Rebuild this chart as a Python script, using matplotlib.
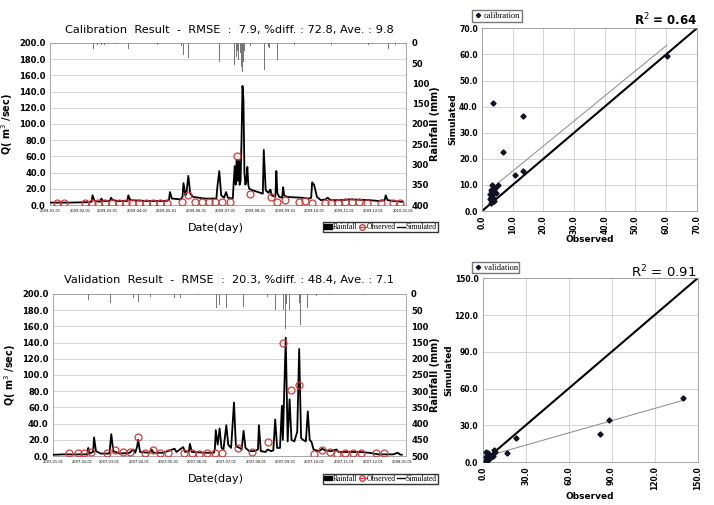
import numpy as np
import pandas as pd
import matplotlib
matplotlib.use('Agg')
import matplotlib.pyplot as plt
import matplotlib.dates as mdates
from matplotlib.lines import Line2D
from matplotlib.patches import Patch

# ---- calibration (2009) ----
cal_sim_day = [0, 20, 40, 43, 44, 46, 52, 53, 55, 62, 63, 65, 70, 80, 81, 83, 100, 120, 123, 124, 126,
               135, 137, 138, 140, 141, 143, 145, 148, 160, 172, 173, 175, 177, 180, 182, 184, 189,
               190, 191, 192, 193, 194, 195, 196, 197, 198, 199, 200, 201, 202, 203, 204, 205, 206,
               210, 215, 220, 221, 223, 226, 227, 228, 229, 233, 234, 235, 237, 240, 241, 242, 245,
               260, 268, 270, 271, 273, 276, 280, 285, 287, 290, 300, 310, 330, 340, 346, 347, 349,
               355, 364]
cal_sim_val = [3, 3, 3.5, 4, 12, 5, 4, 8, 5, 5, 9, 6, 5, 5, 12, 6, 5, 5, 6, 16, 8,
               7, 10, 27, 12, 14, 36, 14, 10, 8, 8, 22, 42, 12, 9, 16, 9, 8,
               30, 48, 25, 56, 30, 55, 25, 30, 80, 147, 130, 40, 25, 30, 47, 25, 20,
               18, 16, 14, 68, 18, 15, 18, 19, 12, 10, 42, 15, 10, 9, 22, 12, 10,
               9, 8, 9, 28, 25, 10, 6, 7, 9, 6, 6, 7, 6, 5, 6, 12, 6,
               5, 4]
cal_obs_day = [7, 14, 36, 43, 50, 57, 64, 71, 79, 85, 92, 99, 106, 114, 121, 136, 143, 150, 157, 164,
               171, 178, 186, 193, 207, 228, 235, 243, 257, 264, 271, 284, 291, 298, 305, 312, 319,
               328, 342, 355, 362]
cal_obs_val = [3, 3, 3, 3, 2.5, 3, 3, 3, 3, 3, 3, 3, 3, 3, 3, 3.5, 12, 4, 3.5, 4,
               3.5, 4, 3.5, 60, 13, 10, 4, 6, 4, 4.5, 3, 3, 3, 3, 4, 4, 4,
               3, 3, 3, 3]
cal_rain_day = [45, 49, 53, 56, 63, 68, 81, 94, 111, 124, 136, 138, 143, 156, 175, 183, 191, 193, 194,
                195, 197, 198, 199, 200, 201, 207, 222, 226, 227, 235, 243, 253, 274, 291, 309, 329,
                350, 357]
cal_rain_val = [16, 5, 6, 4, 5, 3, 14, 3, 4, 18, 8, 30, 36, 5, 47, 18, 55, 35, 20,
                43, 26, 59, 71, 47, 20, 8, 67, 10, 12, 43, 22, 4, 30, 5, 3, 4,
                14, 4]

# ---- validation (2007) ----
val_sim_day = [0, 10, 30, 36, 37, 38, 42, 43, 45, 50, 59, 61, 63, 70, 80, 84, 86, 88, 89, 91, 100, 102,
               103, 105, 115, 127, 129, 136, 138, 142, 143, 145, 160, 168, 169, 170, 172, 174, 176,
               178, 181, 183, 186, 189, 191, 195, 197, 199, 201, 205, 210, 214, 215, 217, 222, 224,
               228, 230, 232, 234, 237, 239, 240, 243, 245, 247, 249, 252, 255, 257, 259, 261, 264,
               266, 268, 270, 272, 278, 281, 284, 290, 296, 298, 310, 320, 330, 340, 355, 360, 362, 364]
val_sim_val = [1.5, 2, 2, 2, 10, 3, 5, 23, 6, 3, 3, 27, 6, 3, 4, 8, 4, 12, 20, 5, 4, 5,
               8, 4, 4, 9, 5, 11, 5, 6, 15, 5, 4, 4, 8, 32, 14, 34, 10,
               8, 38, 14, 10, 66, 12, 10, 8, 31, 10, 6, 6, 8, 38, 6, 5, 8,
               6, 7, 45, 10, 10, 62, 20, 146, 18, 70, 20, 18, 30, 132, 22, 20, 18,
               55, 20, 17, 8, 6, 9, 7, 6, 8, 5, 5, 5, 4, 2, 2, 4, 2, 1.5]
val_obs_day = [17, 26, 33, 40, 57, 65, 73, 81, 89, 96, 104, 112, 120, 137, 145, 153, 161, 169, 177,
               193, 208, 224, 240, 249, 257, 273, 281, 289, 296, 305, 313, 321, 337, 345]
val_obs_val = [4, 4, 4, 5, 4, 7, 5, 5, 23, 4, 8, 4, 4, 4, 4, 3, 4, 4, 4,
               10, 5, 17, 139, 82, 88, 3, 7, 5, 3, 4, 4, 4, 4, 4]
val_rain_day = [37, 42, 48, 60, 69, 84, 89, 102, 117, 127, 133, 152, 171, 174, 181, 189, 199, 215, 224,
                232, 239, 241, 243, 244, 247, 257, 258, 266, 275, 289, 324]
val_rain_val = [18, 29, 3, 29, 4, 13, 24, 10, 4, 12, 12, 3, 44, 34, 44, 68, 39, 34, 8,
                49, 39, 49, 108, 30, 49, 29, 96, 44, 5, 3, 3]

# ---- scatter ----
cal_sc_obs = [60.2, 3.6, 13.5, 6.9, 10.9, 13.3, 3.3, 5.1, 4.3, 2.8, 3.5, 4.5, 2.6, 3.0, 3.5, 2.7, 3.2,
              3.8, 2.9, 4.0, 3.3]
cal_sc_sim = [59.3, 41.5, 36.5, 22.5, 13.8, 15.4, 10.1, 10.1, 9.0, 8.0, 7.5, 7.0, 6.5, 5.5, 5.0, 4.5,
              4.0, 3.8, 3.2, 8.5, 6.0]
cal_trend = (0.96, 5.7)      # slope, intercept
cal_trend_x = (5.2, 60.2)
val_sc_obs = [139.5, 88, 82, 23, 17, 8, 8.5, 2.5, 2, 3, 4, 5, 6, 3, 2.5, 4, 7, 3.5]
val_sc_sim = [52, 34, 23, 20, 7.5, 9.5, 8, 8.5, 4, 6, 3, 5, 4, 2, 1, 7, 5, 1.5]
val_trend = (0.333, 3.8)
val_trend_x = (4.7, 141)

plt.rcParams['font.family'] = 'DejaVu Sans'
fig = plt.figure(figsize=(7.14, 5.05), dpi=100)
obs_red = '#d03c3c'


def timeseries(rect, year, sim_d, sim_v, obs_d, obs_v, rain_d, rain_v, rmax, title, ty, xly, lgy):
    base = pd.Timestamp(f'{year}-01-01')
    ax = fig.add_axes(rect)
    ax.plot(base + pd.to_timedelta(sim_d, 'D'), sim_v, color='black', lw=1.3, zorder=3)
    ax.plot(base + pd.to_timedelta(obs_d, 'D'), obs_v, 'o', mfc='none', mec=obs_red, ms=5, mew=0.9, zorder=4)
    ax.set_ylim(0, 200)
    ax.set_yticks(np.arange(0, 201, 20))
    ax.set_yticklabels([f'{v:.1f}' for v in np.arange(0, 201, 20)], fontsize=6, fontweight='bold')
    ax.yaxis.grid(True, color='#cccccc', lw=0.6)
    ax.set_axisbelow(True)
    ax.set_xlim(base, base + pd.Timedelta(days=368))
    ax.xaxis.set_major_locator(mdates.MonthLocator())
    ax.xaxis.set_major_formatter(mdates.DateFormatter('%Y-%m-%d'))
    ax.tick_params(axis='x', labelsize=2.6, length=0, pad=3)
    ax.tick_params(axis='y', length=0, pad=3)
    ax.set_ylabel('Q( m$^3$ /sec)', fontsize=7, fontweight='bold', labelpad=3)
    for s in ax.spines.values():
        s.set_color('#999999')
        s.set_linewidth(0.6)
    ax2 = ax.twinx()
    ax2.bar(base + pd.to_timedelta(rain_d, 'D'), rain_v, width=0.8, color='#777777', zorder=1)
    ax2.set_ylim(rmax, 0)
    ax2.set_yticks(np.arange(0, rmax + 1, 50))
    ax2.tick_params(axis='y', labelsize=6, length=0, pad=4)
    for lab in ax2.get_yticklabels():
        lab.set_fontweight('bold')
    ax2.set_ylabel('Rainfall (mm)', fontsize=7, fontweight='bold', labelpad=1)
    for s in ax2.spines.values():
        s.set_visible(False)
    ax2.set_xlim(ax.get_xlim())
    fig.text(0.321, ty, title, ha='center', va='center', fontsize=8.2)
    fig.text(0.302, xly, 'Date(day)', ha='center', va='center', fontsize=8)
    handles = [Patch(color='black'),
               Line2D([], [], color=obs_red, marker='o', mfc='none', lw=0.8, ms=4),
               Line2D([], [], color='black', lw=1.0)]
    fig.legend(handles, ['Rainfall', 'Observed', 'Simulated'], loc='center right',
               bbox_to_anchor=(0.613, lgy), ncol=3, frameon=True, fancybox=False,
               edgecolor='black', handlelength=1.0, handletextpad=0.1, columnspacing=0.15,
               borderpad=0.12, handleheight=0.5, borderaxespad=0,
               prop={'family': 'Liberation Serif', 'size': 5.5})


def scatter(rect, obs, sim, trend, trend_x, vmax, step, label, r2, r2_bold, lgy):
    ax = fig.add_axes(rect)
    ax.plot([0, vmax], [0, vmax], color='black', lw=1.5, zorder=2)
    tx = np.array(trend_x)
    ax.plot(tx, trend[0] * tx + trend[1], color='#888888', lw=0.7, zorder=2)
    ax.plot(obs, sim, 'D', color='#111122', ms=2.6, zorder=3, ls='none')
    ticks = np.arange(0, vmax + 1, step)
    ax.set_xlim(0, vmax)
    ax.set_ylim(0, vmax)
    ax.set_xticks(ticks)
    ax.set_yticks(ticks)
    ax.set_xticklabels([f'{t:.1f}' for t in ticks], rotation=90, fontsize=5.5, fontweight='bold')
    ax.set_yticklabels([f'{t:.1f}' for t in ticks], fontsize=5.5, fontweight='bold')
    ax.tick_params(length=0, pad=3)
    ax.grid(True, color='#cccccc', lw=0.6)
    ax.set_axisbelow(True)
    for s in ax.spines.values():
        s.set_color('#999999')
        s.set_linewidth(0.6)
    ax.set_xlabel('Observed', fontsize=6.5, fontweight='bold', labelpad=1)
    ax.set_ylabel('Simulated', fontsize=6.5, fontweight='bold', labelpad=1)
    fig.text(0.976, lgy - 0.008, r2, ha='right', va='center',
             fontsize=8.5 if r2_bold else 9.5, fontweight='bold' if r2_bold else 'normal')
    h = [Line2D([], [], marker='D', color='#111122', ms=2.2, ls='none')]
    fig.legend(h, [label], loc='center left', bbox_to_anchor=(0.661, lgy),
               frameon=True, fancybox=False, edgecolor='#555555', handlelength=1.0,
               handletextpad=0.2, borderpad=0.2, borderaxespad=0,
               prop={'family': 'Liberation Serif', 'size': 6})


timeseries([0.070, 0.594, 0.4986, 0.321], 2009, cal_sim_day, cal_sim_val, cal_obs_day, cal_obs_val,
           cal_rain_day, cal_rain_val, 400,
           'Calibration  Result  -  RMSE  :  7.9, %diff. : 72.8, Ave. : 9.8', 0.941, 0.549, 0.550)
timeseries([0.074, 0.097, 0.494, 0.321], 2007, val_sim_day, val_sim_val, val_obs_day, val_obs_val,
           val_rain_day, val_rain_val, 500,
           'Validation  Result  -  RMSE  :  20.3, %diff. : 48.4, Ave. : 7.1', 0.446, 0.051, 0.052)
scatter([0.675, 0.582, 0.301, 0.362], cal_sc_obs, cal_sc_sim, cal_trend, cal_trend_x, 70, 10,
        'calibration', 'R$^2$ = 0.64', True, 0.968)
scatter([0.676, 0.085, 0.301, 0.364], val_sc_obs, val_sc_sim, val_trend, val_trend_x, 150, 30,
        'validation', 'R$^2$ = 0.91', False, 0.470)

fig.savefig('out.png', dpi=100)
